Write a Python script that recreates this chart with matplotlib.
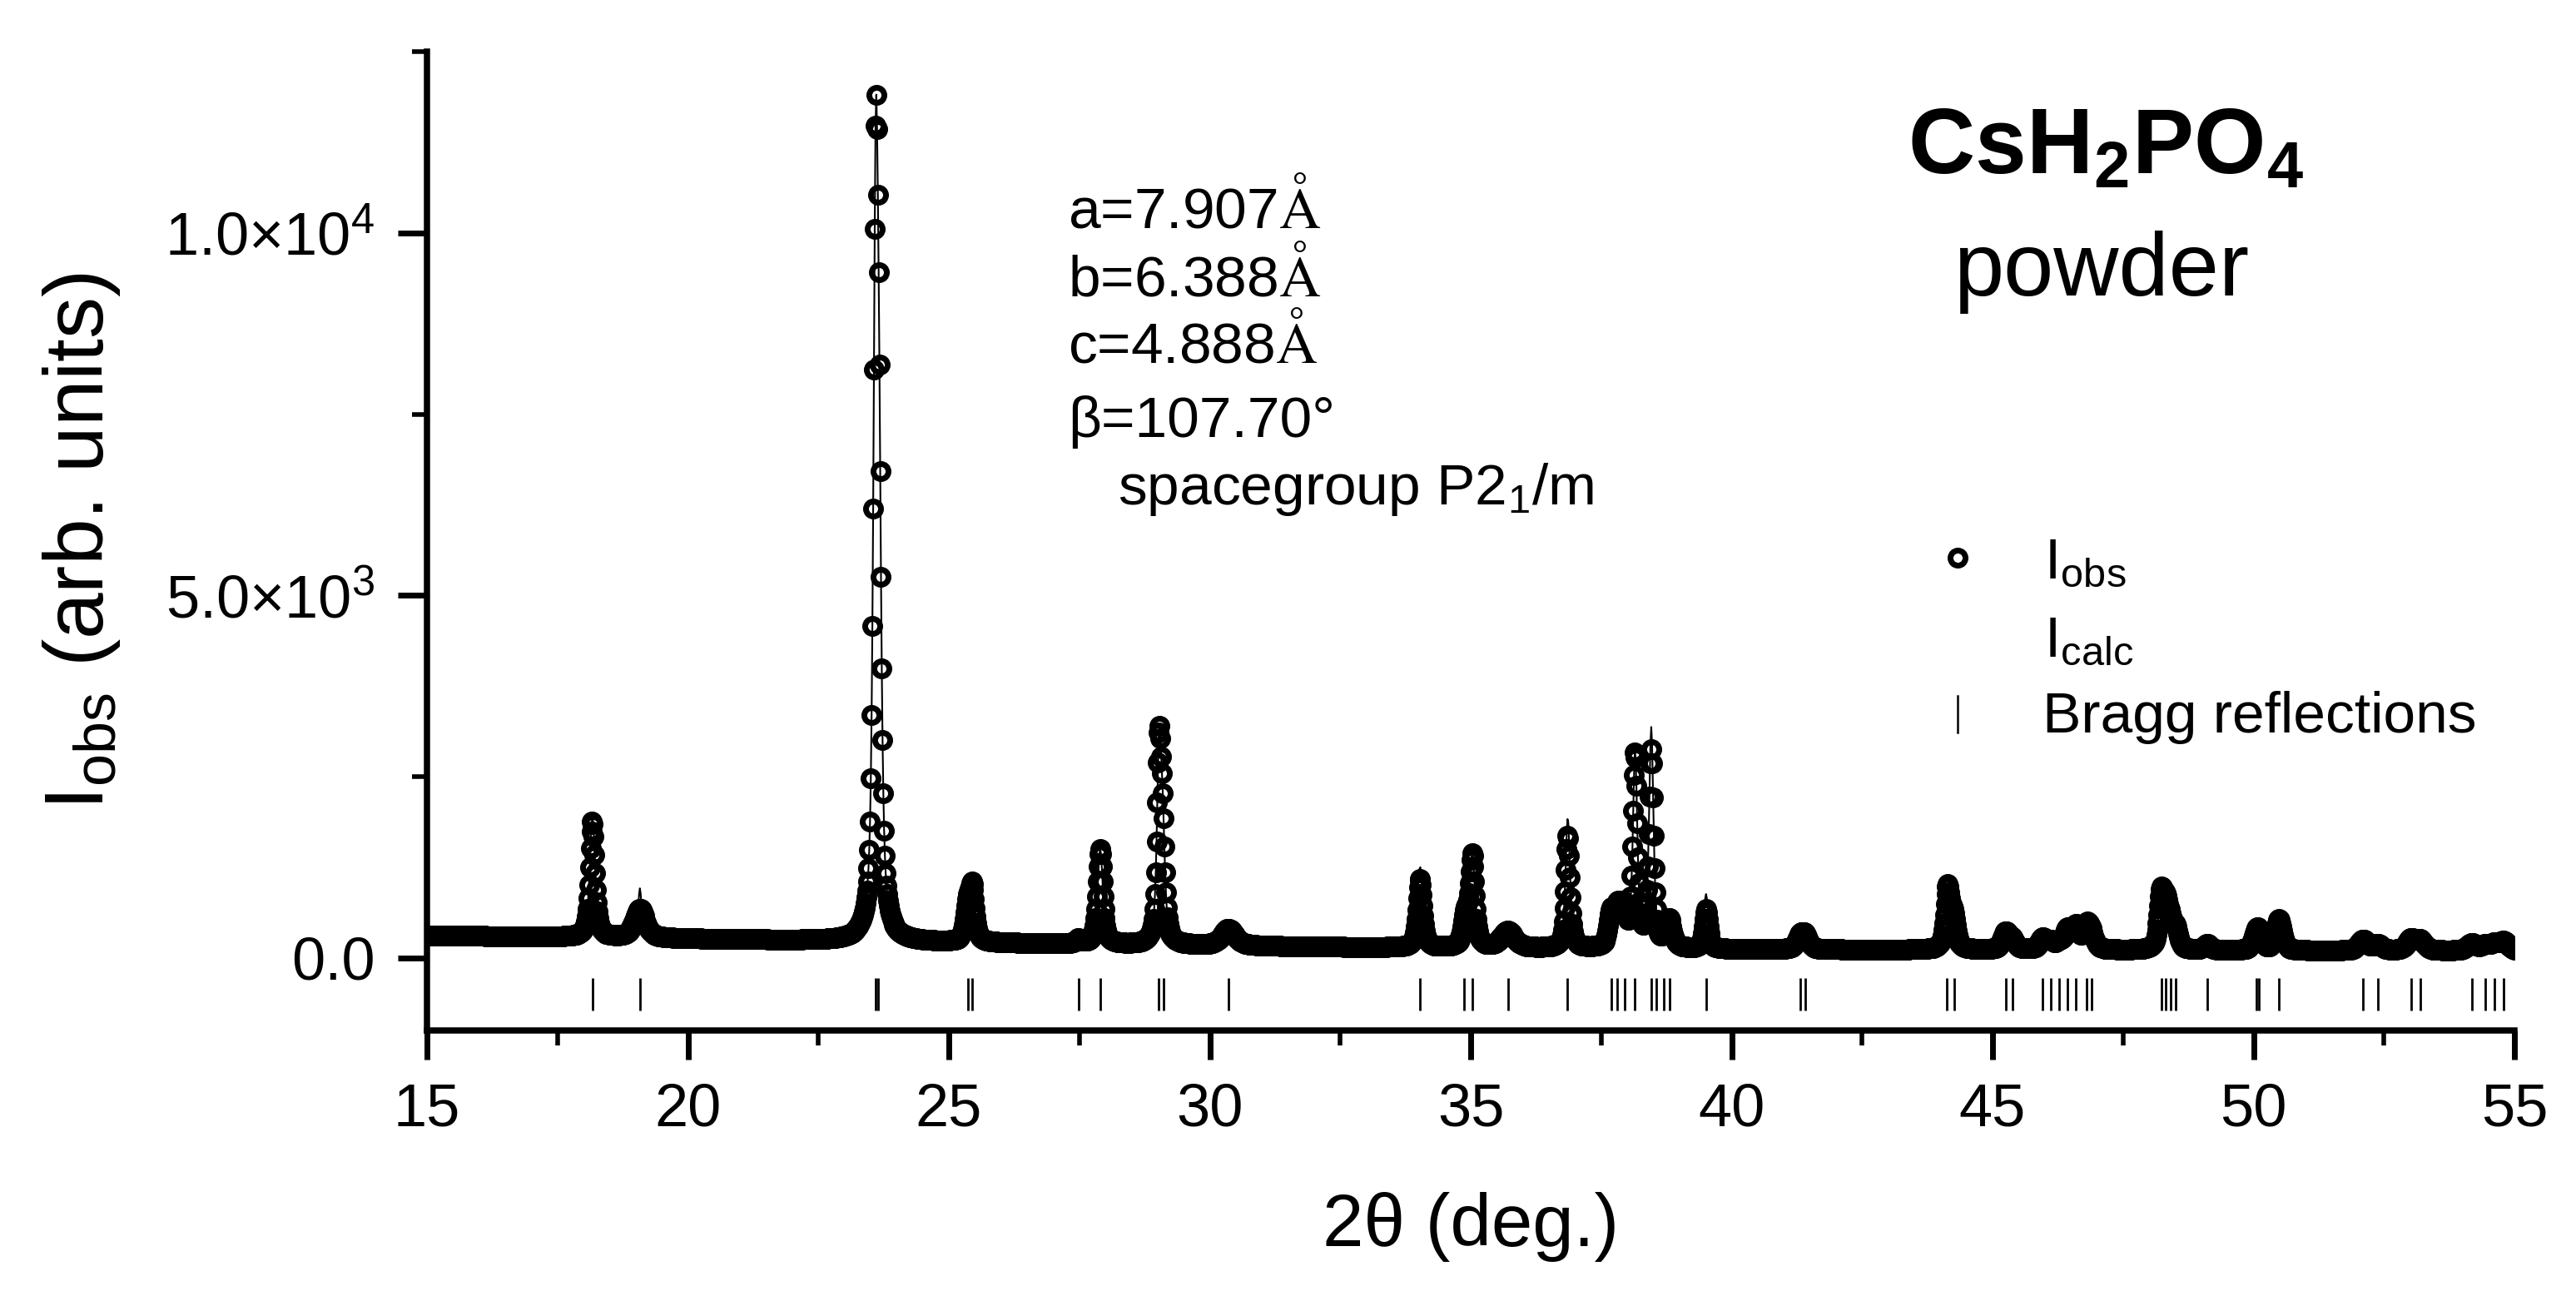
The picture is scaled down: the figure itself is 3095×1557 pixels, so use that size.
import numpy as np
import matplotlib.pyplot as plt
from matplotlib.ticker import MultipleLocator, FixedLocator, FixedFormatter
from matplotlib.lines import Line2D

plt.rcParams['font.family'] = ['Liberation Sans', 'DejaVu Sans']
plt.rcParams['mathtext.fontset'] = 'custom'
plt.rcParams['mathtext.rm'] = 'Liberation Sans'
plt.rcParams['mathtext.it'] = 'Liberation Sans:italic'
plt.rcParams['mathtext.bf'] = 'Liberation Sans:bold'

# background level under the pattern (2theta, counts)
bg_pos = [15, 17.5, 20, 22.5, 25, 27.5, 30, 32.5, 35, 40, 45, 50, 55]
bg_level = [310, 290, 265, 240, 215, 190, 170, 150, 135, 118, 110, 100, 95]

# reflections seen in the pattern: position, observed / calculated height above
# background, observed / calculated FWHM (deg)
peak_pos = [18.17, 19.08, 23.60, 23.665, 25.36, 25.45, 27.49, 27.90, 29.03, 29.10,
            30.36, 34.03, 34.90, 35.03, 35.71, 36.86, 37.69, 37.81, 37.93, 38.15,
            38.46, 38.80, 39.51, 41.31, 41.41, 44.14, 44.25, 45.25, 45.38, 45.96,
            46.11, 46.28, 46.44, 46.60, 46.81, 46.90, 48.23, 48.32, 48.41, 48.51,
            49.11, 50.06, 50.11, 50.49, 52.10, 52.38, 53.02, 53.20, 54.18, 54.44,
            54.62, 54.80]
peak_obs = [1600, 400, 9700, 4500, 450, 700, 60, 1310, 2600, 1300,
            230, 950, 400, 1250, 230, 1560, 450, 480, 480, 2650,
            2700, 380, 540, 170, 170, 830, 420, 230, 120, 150,
            100, 80, 250, 300, 300, 150, 700, 500, 300, 250,
            80, 220, 120, 430, 150, 80, 150, 130, 100, 70,
            80, 120]
peak_calc = [1650, 680, 9700, 4500, 450, 700, 60, 1310, 2600, 1300,
             230, 1110, 400, 1250, 230, 1790, 450, 480, 480, 2650,
             3000, 380, 750, 170, 170, 830, 420, 230, 120, 150,
             100, 80, 250, 300, 300, 150, 700, 500, 300, 250,
             80, 220, 120, 430, 150, 80, 150, 130, 100, 70,
             80, 120]
peak_fwhm = [0.12, 0.25, 0.11, 0.11, 0.12, 0.12, 0.12, 0.12, 0.10, 0.10,
             0.30, 0.12, 0.12, 0.12, 0.30, 0.10, 0.12, 0.12, 0.12, 0.10,
             0.10, 0.15, 0.10, 0.15, 0.15, 0.12, 0.12, 0.15, 0.15, 0.15,
             0.15, 0.15, 0.15, 0.15, 0.15, 0.15, 0.12, 0.12, 0.12, 0.12,
             0.15, 0.15, 0.15, 0.15, 0.20, 0.20, 0.20, 0.20, 0.20, 0.20,
             0.20, 0.20]
calc_fwhm = [0.12, 0.08, 0.11, 0.11, 0.12, 0.12, 0.12, 0.12, 0.10, 0.10,
             0.30, 0.12, 0.12, 0.12, 0.30, 0.10, 0.12, 0.12, 0.12, 0.10,
             0.10, 0.15, 0.10, 0.15, 0.15, 0.12, 0.12, 0.15, 0.15, 0.15,
             0.15, 0.15, 0.15, 0.15, 0.15, 0.15, 0.12, 0.12, 0.12, 0.12,
             0.15, 0.15, 0.15, 0.15, 0.20, 0.20, 0.20, 0.20, 0.20, 0.20,
             0.20, 0.20]

# Bragg reflection positions
bragg_pos = [18.17, 19.09, 23.60, 23.65, 25.36, 25.45, 27.49, 27.90, 29.02, 29.11,
             30.36, 34.03, 34.88, 35.03, 35.72, 36.85, 37.69, 37.81, 37.95, 38.14,
             38.46, 38.55, 38.70, 38.81, 39.51, 41.31, 41.41, 44.13, 44.26, 45.25,
             45.38, 45.96, 46.11, 46.28, 46.44, 46.60, 46.81, 46.90, 48.23, 48.32,
             48.41, 48.51, 49.11, 50.06, 50.11, 50.49, 52.10, 52.38, 53.02, 53.20,
             54.18, 54.44, 54.62, 54.80]

step = 0.015


def pvoigt(x, c, h, w, eta=0.6):
    lor = 1.0 / (1.0 + ((x - c) / (w / 2)) ** 2)
    gau = np.exp(-4 * np.log(2) * ((x - c) / w) ** 2)
    return h * (eta * lor + (1 - eta) * gau)


tt = np.arange(15, 55 + step / 2, step)
bg = np.interp(tt, bg_pos, bg_level)
i_obs = bg.copy()
i_calc = bg.copy()
for c, ho, hc, wo, wc in zip(peak_pos, peak_obs, peak_calc, peak_fwhm, calc_fwhm):
    i_obs += pvoigt(tt, c, ho, wo)
    i_calc += pvoigt(tt, c, hc, wc)

W, H = 3095, 1557
fig = plt.figure(figsize=(W / 100, H / 100), dpi=100)
ax = fig.add_axes([513 / W, 1 - 1238 / H, (3021 - 513) / W, (1238 - 62) / H])

ax.plot(tt, i_obs, 'o', ms=13, mfc='none', mec='black', mew=5, zorder=2)
ax.plot(tt, i_calc, '-', color='black', lw=1.5, zorder=3)
ax.vlines(bragg_pos, -720, -275, color='black', lw=2, zorder=3)

ax.set_xlim(15, 55)
ax.set_ylim(-1000, 12500)
ax.xaxis.set_major_locator(MultipleLocator(5))
ax.xaxis.set_minor_locator(MultipleLocator(2.5))
ax.yaxis.set_major_locator(FixedLocator([0, 5000, 10000]))
ax.yaxis.set_major_formatter(FixedFormatter(['0.0', r'5.0×$10^{3}$', r'1.0×$10^{4}$']))
ax.yaxis.set_minor_locator(FixedLocator([2500, 7500, 12500]))

for s in ['top', 'right']:
    ax.spines[s].set_visible(False)
for s in ['left', 'bottom']:
    ax.spines[s].set_linewidth(5.4)
ax.tick_params(which='major', direction='out', length=25, width=5, labelsize=52, pad=20)
ax.tick_params(which='minor', direction='out', length=13, width=4)

ax.set_xlabel('2θ (deg.)', fontsize=64)
ax.xaxis.set_label_coords(0.5, -0.165)
ax.set_ylabel(r'I$_\mathrm{obs}$ (arb. units)', fontsize=72)
ax.yaxis.set_label_coords(-0.146, 0.5)


def fx(x):
    return x / W


def fy(y):
    return 1 - y / H


# lattice parameters
fig.text(fx(1283), fy(274), r'a=7.907$\mathrm{\AA}$', fontsize=50, va='baseline', math_fontfamily='stix')
fig.text(fx(1283), fy(355), r'b=6.388$\mathrm{\AA}$', fontsize=50, va='baseline', math_fontfamily='stix')
fig.text(fx(1283), fy(436), r'c=4.888$\mathrm{\AA}$', fontsize=50, va='baseline', math_fontfamily='stix')
fig.text(fx(1283), fy(525), 'β=107.70°', fontsize=50, va='baseline')
fig.text(fx(1343), fy(606), r'spacegroup P$2_1$/m', fontsize=50, va='baseline')

# sample title
fig.text(fx(2530), fy(208), r'CsH$_\mathbf{2}$PO$_\mathbf{4}$', fontsize=80,
         fontweight='bold', ha='center', va='baseline')
fig.text(fx(2525), fy(355), 'powder', fontsize=78, ha='center', va='baseline')

# legend
fig.add_artist(Line2D([fx(2352)], [fy(670)], marker='o', ms=13, mfc='none',
                      mec='black', mew=5, ls='none'))
fig.add_artist(Line2D([fx(2352), fx(2352)], [fy(836), fy(880)], color='black', lw=1.8))
fig.text(fx(2456), fy(695), r'I$_\mathrm{obs}$', fontsize=50, va='baseline')
fig.text(fx(2456), fy(789), r'I$_\mathrm{calc}$', fontsize=50, va='baseline')
fig.text(fx(2454), fy(880), 'Bragg reflections', fontsize=50, va='baseline')

fig.savefig('out.png', dpi=100)
